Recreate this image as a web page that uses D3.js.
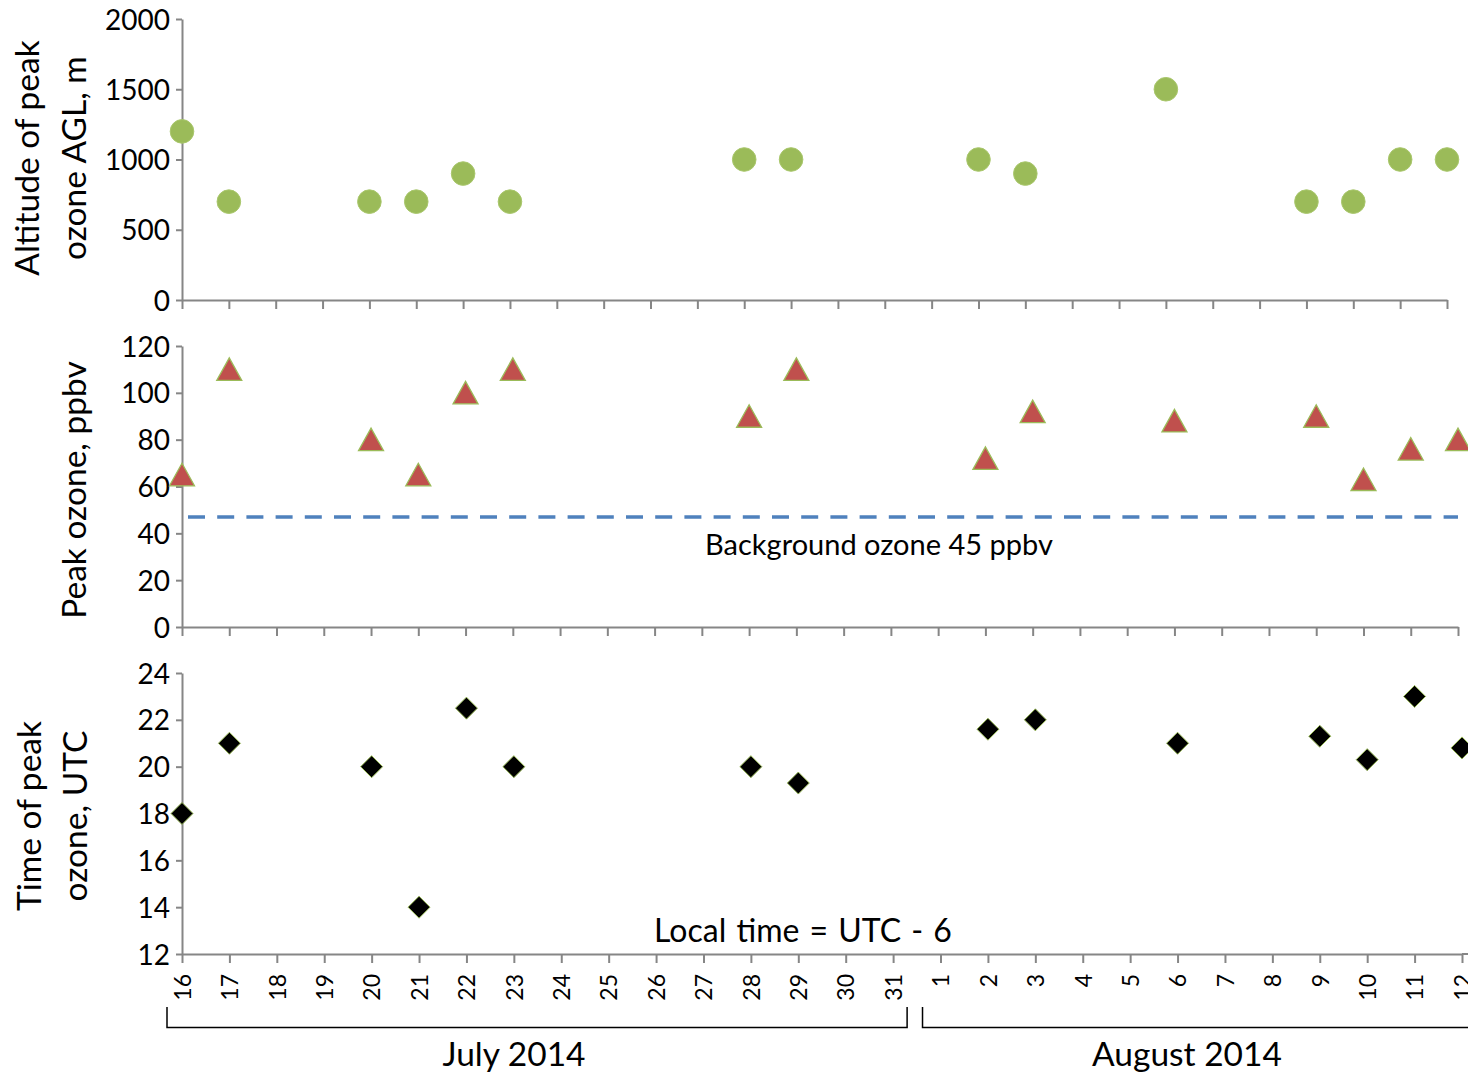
<!DOCTYPE html>
<html>
<head>
<meta charset="utf-8">
<script src="https://cdn.jsdelivr.net/npm/d3@7"></script>
<style>
  html, body { margin: 0; padding: 0; background: #fff; }
  svg { display: block; }
  text { font-family: Lato, "Open Sans", sans-serif; fill: #000; }
</style>
</head>
<body>
<svg id="chart" width="1468" height="1076"></svg>
<script>
// ---- data ----
const dates = ["2014-07-16","2014-07-17","2014-07-20","2014-07-21","2014-07-22","2014-07-23",
               "2014-07-28","2014-07-29","2014-08-02","2014-08-03","2014-08-06","2014-08-09",
               "2014-08-10","2014-08-11","2014-08-12"];
const altitudeM = [1200, 700, 700, 700, 900, 700, 1000, 1000, 1000, 900, 1500, 700, 700, 1000, 1000];
const peakOzone = [65, 110, 80, 65, 100, 110, 90, 110, 72, 92, 88, 90, 63, 76, 80];
const peakTimeUTC = [18, 21, 20, 14, 22.5, 20, 20, 19.3, 21.6, 22, 21, 21.3, 20.3, 23, 20.8];
const backgroundOzone = 47;
const altTicks = [0, 500, 1000, 1500, 2000];
const ozoneTicks = [0, 20, 40, 60, 80, 100, 120];
const timeTicks = [12, 14, 16, 18, 20, 22, 24];
const startDate = "2014-07-16", endDate = "2014-08-12";
const monthLabels = ["July 2014", "August 2014"];

// ---- setup ----
const parse = d3.utcParse("%Y-%m-%d");
const D = dates.map(parse);
const t0 = parse(startDate), t1 = parse(endDate);
const dayTicks = d3.utcDay.range(t0, d3.utcDay.offset(t1, 1));
const svg = d3.select("#chart");
const axisColor = "#868686";

function styleAxis(g) {
  g.selectAll("path.domain").attr("stroke", axisColor).attr("stroke-width", 2);
  g.selectAll(".tick line").attr("stroke", axisColor).attr("stroke-width", 2);
  g.selectAll(".tick text").style("font-family", "Lato, 'Open Sans', sans-serif").attr("fill", "#000");
}

function panel(cfg) {
  const x = d3.scaleUtc().domain([t0, t1]).range([182, cfg.xEnd]);
  const y = d3.scaleLinear().domain(cfg.yDomain).range([cfg.yBottom, cfg.yTop]);
  const gx = svg.append("g").attr("transform", `translate(0,${cfg.yBottom})`)
    .call(d3.axisBottom(x).tickValues(dayTicks).tickSize(9).tickSizeOuter(0)
      .tickFormat(cfg.xLabels ? d3.utcFormat("%-d") : ""));
  styleAxis(gx);
  if (cfg.xLabels) {
    gx.selectAll(".tick text")
      .attr("transform", "rotate(-90)")
      .attr("text-anchor", "end")
      .attr("x", -20).attr("y", 0).attr("dy", "0.36em")
      .style("font-size", "23px");
  } else {
    gx.selectAll(".tick text").remove();
  }
  const gy = svg.append("g").attr("transform", "translate(182,0)")
    .call(d3.axisLeft(y).tickValues(cfg.yTicks).tickSize(6).tickSizeOuter(0).tickPadding(6)
      .tickFormat(d3.format("d")));
  styleAxis(gy);
  gy.selectAll(".tick text").style("font-size", "28px").attr("dy", "0.36em");
  return {x, y};
}

// ---- top panel: altitude ----
const p1 = panel({xEnd: 1447, yDomain: [0, 2000], yTop: 19, yBottom: 300, yTicks: altTicks, xLabels: false});
svg.append("g").selectAll("circle").data(D).join("circle")
  .attr("cx", (d) => p1.x(d))
  .attr("cy", (d, i) => p1.y(altitudeM[i]))
  .attr("r", 11.8)
  .attr("fill", "#9BBB59")
  .attr("stroke", "#a9c76c").attr("stroke-width", 1);

// ---- middle panel: peak ozone ----
const p2 = panel({xEnd: 1458, yDomain: [0, 120], yTop: 346, yBottom: 627, yTicks: ozoneTicks, xLabels: false});
svg.append("line")
  .attr("x1", p2.x.range()[0] + 6).attr("x2", p2.x.range()[1])
  .attr("y1", p2.y(backgroundOzone)).attr("y2", p2.y(backgroundOzone))
  .attr("stroke", "#4F81BD").attr("stroke-width", 3.5)
  .attr("stroke-dasharray", "17 12.2");
const triPath = "M0,-11.5L12.5,11L-12.5,11Z";
svg.append("g").selectAll("path").data(D).join("path")
  .attr("d", triPath)
  .attr("transform", (d, i) => `translate(${p2.x(d)},${p2.y(peakOzone[i])})`)
  .attr("fill", "#C0504D")
  .attr("stroke", "#9BBB59").attr("stroke-width", 1.3);
svg.append("text")
  .attr("x", 879).attr("y", 555)
  .attr("text-anchor", "middle")
  .style("font-size", "29px")
  .text("Background ozone 45 ppbv");

// ---- bottom panel: time of peak ozone ----
const p3 = panel({xEnd: 1462, yDomain: [12, 24], yTop: 673, yBottom: 954, yTicks: timeTicks, xLabels: true});
svg.append("line").attr("x1", 1462).attr("x2", 1468).attr("y1", 954).attr("y2", 954)
  .attr("stroke", axisColor).attr("stroke-width", 2);
const diaPath = "M0,-11L11,0L0,11L-11,0Z";
svg.append("g").selectAll("path").data(D).join("path")
  .attr("d", diaPath)
  .attr("transform", (d, i) => `translate(${p3.x(d)},${p3.y(peakTimeUTC[i])})`)
  .attr("fill", "#000")
  .attr("stroke", "#9BBB59").attr("stroke-width", 1);
svg.append("text")
  .attr("x", 803).attr("y", 942)
  .attr("text-anchor", "middle")
  .style("font-size", "32px")
  .style("word-spacing", "2px")
  .text("Local time = UTC - 6");

// ---- month brackets ----
const jul16 = p3.x(t0), jul31 = p3.x(parse("2014-07-31")), aug1 = p3.x(parse("2014-08-01"));
const br = svg.append("g").attr("fill", "none").attr("stroke", "#000").attr("stroke-width", 1.5);
br.append("path").attr("d", `M${jul16 - 15},1007V1027.5H${jul31 + 14}V1007`);
br.append("path").attr("d", `M${aug1 - 18},1007V1027.5H1470`);
svg.append("text").attr("x", 514).attr("y", 1066).attr("text-anchor", "middle")
  .style("font-size", "33.5px").text(monthLabels[0]);
svg.append("text").attr("x", 1187).attr("y", 1066).attr("text-anchor", "middle")
  .style("font-size", "33.5px").text(monthLabels[1]);

// ---- y-axis titles ----
function vtitle(lines, cx, cy, gap) {
  const g = svg.append("g").attr("transform", `translate(${cx},${cy}) rotate(-90)`);
  lines.forEach((s, i) => {
    g.append("text").attr("x", 0)
      .attr("y", (i - (lines.length - 1) / 2) * gap)
      .attr("dy", "0.35em")
      .attr("text-anchor", "middle")
      .style("font-size", "33.5px")
      .text(s);
  });
}
vtitle(["Altitude of peak", "ozone AGL, m"], 51, 158, 47);
vtitle(["Peak ozone, ppbv"], 74, 490, 0);
vtitle(["Time of peak", "ozone, UTC"], 52, 816, 46);
</script>
</body>
</html>
